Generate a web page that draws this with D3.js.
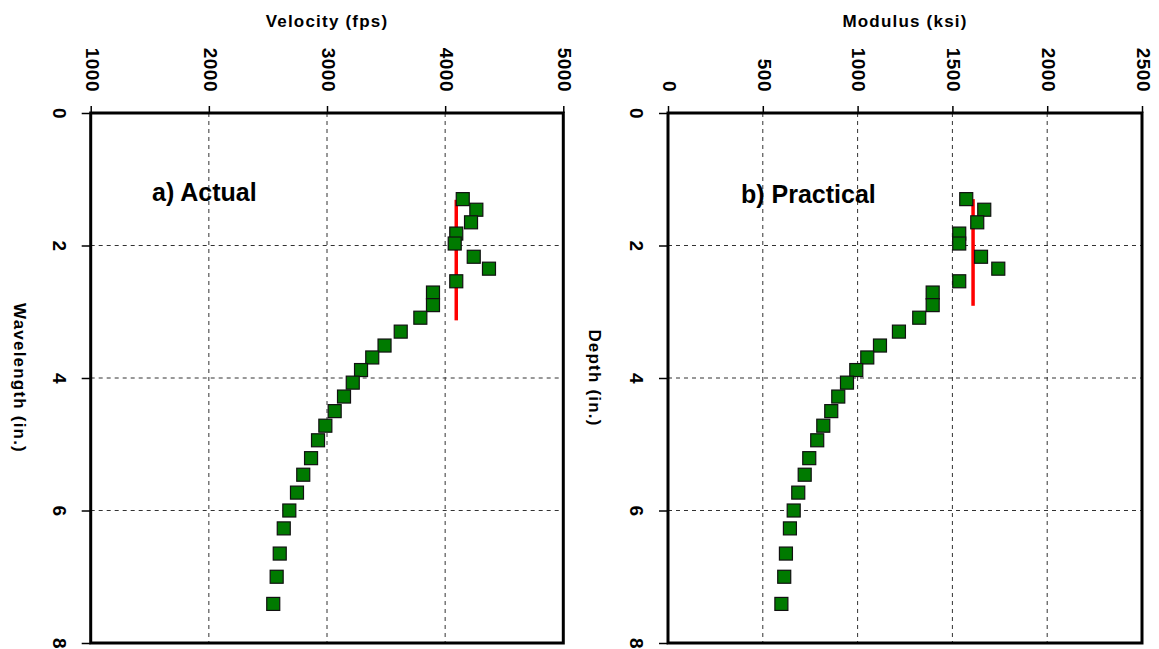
<!DOCTYPE html>
<html>
<head>
<meta charset="utf-8">
<script src="https://cdn.jsdelivr.net/npm/d3@7"></script>
<style>
  body { margin: 0; background: #fff; }
  svg { display: block; font-family: "Liberation Sans", Arial, sans-serif; }
  .grid line { stroke: #333; stroke-dasharray: 4,4; stroke-width: 1; }
  .tick text { font-size: 19px; font-weight: bold; fill: #000; letter-spacing: 0.5px; }
  .axis-title { font-size: 17px; font-weight: bold; letter-spacing: 1.2px; }
  .panel-label { font-size: 25px; font-weight: bold; }
</style>
</head>
<body>
<svg id="chart" width="1159" height="649"></svg>
<script>
// depth / wavelength (in.) of each measurement, shared by both panels
const depth = [1.30, 1.46, 1.65, 1.82, 1.97, 2.17, 2.35, 2.54, 2.71, 2.90, 3.09, 3.30, 3.51, 3.69,
               3.88, 4.07, 4.28, 4.50, 4.72, 4.94, 5.21, 5.46, 5.73, 6.00, 6.27, 6.65, 7.00, 7.41];
const velocity = [4149, 4264, 4219, 4094, 4081, 4242, 4371, 4094, 3897, 3897, 3790, 3624, 3487, 3383,
                  3288, 3218, 3144, 3065, 2986, 2924, 2865, 2799, 2746, 2681, 2634, 2600, 2574, 2545];
const modulus = [1573, 1668, 1631, 1536, 1536, 1651, 1742, 1536, 1396, 1396, 1325, 1218, 1118, 1051,
                 993, 944, 898, 861, 819, 787, 745, 721, 687, 663, 643, 622, 613, 598];

// red design value lines
const velocityLine = [{v: 4094, d: 1.31}, {v: 4094, d: 3.13}];
const modulusLine = [{v: 1609, d: 1.30}, {v: 1609, d: 2.91}];

const depthTicks = [0, 2, 4, 6, 8];
const velocityTicks = [1000, 2000, 3000, 4000, 5000];
const modulusTicks = [0, 500, 1000, 1500, 2000, 2500];

let svg = d3.select('#chart');

let y = d3.scaleLinear().domain([0, 8]).range([113, 643]);

function panel(opts) {
    let x = d3.scaleLinear().domain(opts.domain).range(opts.range);
    let g = svg.append('g');
    let x0 = opts.range[0], x1 = opts.range[1];

    // dashed grid
    g.append('g').attr('class', 'grid')
        .selectAll('line').data(opts.ticks.slice(1, -1)).enter().append('line')
        .attr('x1', d => x(d)).attr('x2', d => x(d))
        .attr('y1', y(0)).attr('y2', y(8));
    g.append('g').attr('class', 'grid')
        .selectAll('line').data(depthTicks.slice(1, -1)).enter().append('line')
        .attr('x1', x0).attr('x2', x1)
        .attr('y1', d => y(d)).attr('y2', d => y(d));

    // top axis, labels turned 90 degrees
    let top = g.append('g')
        .attr('transform', 'translate(0,' + y(0) + ')')
        .call(d3.axisTop(x).tickValues(opts.ticks).tickSize(7).tickFormat(d3.format('d')));
    top.select('.domain').remove();
    top.selectAll('.tick line').attr('stroke', '#000').attr('stroke-width', 1.5);
    top.selectAll('.tick text')
        .attr('x', 0).attr('y', 0).attr('dy', '0.35em')
        .attr('text-anchor', 'end')
        .attr('transform', 'translate(1,-21) rotate(90)');

    // left axis
    let left = g.append('g')
        .attr('transform', 'translate(' + x0 + ',0)')
        .call(d3.axisLeft(y).tickValues(depthTicks).tickSize(9));
    left.select('.domain').remove();
    left.selectAll('.tick line').attr('stroke', '#000').attr('stroke-width', 1.5);
    left.selectAll('.tick text')
        .attr('x', 0).attr('dy', '0.35em')
        .attr('text-anchor', 'middle')
        .attr('transform', 'translate(' + opts.labelOffset + ',0) rotate(90)');

    // frame
    g.append('rect')
        .attr('x', x0).attr('y', y(0))
        .attr('width', x1 - x0).attr('height', y(8) - y(0))
        .attr('fill', 'none').attr('stroke', '#000').attr('stroke-width', 3);

    // red line
    g.append('path')
        .datum(opts.line)
        .attr('fill', 'none')
        .attr('stroke', '#ff0000')
        .attr('stroke-width', 3.5)
        .attr('d', d3.line().x(d => x(d.v)).y(d => y(d.d)));

    // square markers
    let s = 13;
    g.selectAll('.point')
        .data(opts.values.map((v, i) => ({v: v, d: depth[i]})))
        .enter().append('rect')
        .attr('class', 'point')
        .attr('x', d => x(d.v) - s / 2)
        .attr('y', d => y(d.d) - s / 2)
        .attr('width', s).attr('height', s)
        .attr('fill', '#007a00')
        .attr('stroke', '#111')
        .attr('stroke-width', 1.2);

    // titles
    g.append('text').attr('class', 'axis-title')
        .attr('x', (x0 + x1) / 2).attr('y', 27)
        .attr('text-anchor', 'middle')
        .text(opts.xTitle);
    g.append('text').attr('class', 'axis-title')
        .attr('transform', 'translate(' + opts.yTitleX + ',' + ((y(0) + y(8)) / 2) + ') rotate(90)')
        .attr('text-anchor', 'middle')
        .attr('dy', '0.35em')
        .text(opts.yTitle);
    g.append('text').attr('class', 'panel-label')
        .attr('x', opts.labelPos[0]).attr('y', opts.labelPos[1])
        .text(opts.label);
}

panel({
    domain: [1000, 5000], range: [90.7, 563.3], ticks: velocityTicks,
    values: velocity, line: velocityLine,
    xTitle: 'Velocity (fps)', yTitle: 'Wavelength (in.)', yTitleX: 20,
    labelOffset: -31, label: 'a) Actual', labelPos: [152, 201]
});

panel({
    domain: [0, 2500], range: [668, 1142], ticks: modulusTicks,
    values: modulus, line: modulusLine,
    xTitle: 'Modulus (ksi)', yTitle: 'Depth (in.)', yTitleX: 595,
    labelOffset: -31, label: 'b) Practical', labelPos: [741, 203]
});
</script>
</body>
</html>
